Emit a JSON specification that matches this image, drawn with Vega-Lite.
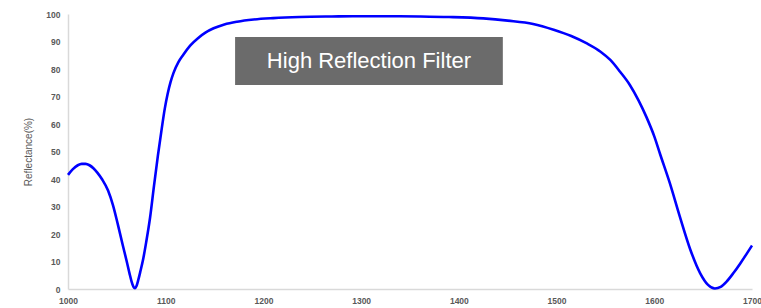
{
  "$schema": "https://vega.github.io/schema/vega-lite/v6.json",
  "width": 684,
  "height": 275,
  "autosize": {"type": "none"},
  "padding": {"left": 68, "top": 14, "right": 9, "bottom": 19},
  "background": "white",
  "config": {"view": {"stroke": null}, "font": "Liberation Sans"},
  "resolve": {"axis": {"x": "independent", "y": "independent"}},
  "datasets": {
    "curve": [
      {"w": 1000, "r": 41.5}, {"w": 1005, "r": 43.6}, {"w": 1010, "r": 45.0}, {"w": 1014, "r": 45.5},
      {"w": 1018, "r": 45.5}, {"w": 1022, "r": 45.0}, {"w": 1026, "r": 43.9}, {"w": 1030, "r": 42.3},
      {"w": 1035, "r": 39.8}, {"w": 1041, "r": 35.8}, {"w": 1046, "r": 30.5}, {"w": 1051, "r": 23.5},
      {"w": 1056, "r": 16.0}, {"w": 1060, "r": 10.2}, {"w": 1063, "r": 5.6}, {"w": 1065, "r": 2.8},
      {"w": 1067, "r": 0.8}, {"w": 1068.5, "r": 0.3}, {"w": 1070, "r": 1.0}, {"w": 1072, "r": 3.4},
      {"w": 1074, "r": 6.3}, {"w": 1077, "r": 11.0}, {"w": 1080, "r": 17.0}, {"w": 1084, "r": 26.0},
      {"w": 1088, "r": 37.5}, {"w": 1092, "r": 48.5}, {"w": 1096, "r": 58.5}, {"w": 1099, "r": 65.5},
      {"w": 1102, "r": 71.0}, {"w": 1105, "r": 75.3}, {"w": 1108, "r": 78.6}, {"w": 1113, "r": 82.5},
      {"w": 1118, "r": 85.2}, {"w": 1125, "r": 88.5}, {"w": 1133, "r": 91.2},
      {"w": 1141, "r": 93.3}, {"w": 1149, "r": 94.8}, {"w": 1160, "r": 96.2}, {"w": 1173, "r": 97.2},
      {"w": 1190, "r": 98.0}, {"w": 1210, "r": 98.5}, {"w": 1237, "r": 98.9}, {"w": 1270, "r": 99.1},
      {"w": 1300, "r": 99.2}, {"w": 1330, "r": 99.2}, {"w": 1360, "r": 99.1}, {"w": 1390, "r": 98.9},
      {"w": 1425, "r": 98.4}, {"w": 1450, "r": 97.6}, {"w": 1476, "r": 96.4}, {"w": 1497, "r": 94.3},
      {"w": 1515, "r": 92.0}, {"w": 1531, "r": 89.3}, {"w": 1545, "r": 86.3}, {"w": 1555, "r": 83.3},
      {"w": 1565, "r": 79.0}, {"w": 1575, "r": 74.2}, {"w": 1584, "r": 68.5}, {"w": 1592, "r": 62.5},
      {"w": 1600, "r": 55.5}, {"w": 1606, "r": 49.0}, {"w": 1616, "r": 38.4}, {"w": 1626, "r": 26.5},
      {"w": 1637, "r": 14.2}, {"w": 1647, "r": 5.7}, {"w": 1655, "r": 1.5}, {"w": 1662, "r": 0.2},
      {"w": 1668, "r": 0.8}, {"w": 1674, "r": 2.7}, {"w": 1681, "r": 5.8}, {"w": 1688, "r": 9.3},
      {"w": 1694, "r": 12.5}, {"w": 1700, "r": 15.8}
    ],
    "label": [
      {"w1": 1171, "w2": 1445, "r1": 74.2, "r2": 91.6, "wc": 1308, "rc": 82.9, "text": "High Reflection Filter"}
    ]
  },
  "layer": [
    {
      "data": {"name": "curve"},
      "mark": {"type": "line", "color": "#0000ff", "strokeWidth": 2.6, "interpolate": "monotone"},
      "encoding": {
        "x": {
          "field": "w", "type": "quantitative",
          "scale": {"domain": [1000, 1700], "nice": false, "zero": false},
          "axis": {
            "values": [1000, 1100, 1200, 1300, 1400, 1500, 1600, 1700],
            "format": "d", "labelOverlap": false,
            "title": null, "grid": false, "ticks": false,
            "domainColor": "#d9d9d9", "domainWidth": 1.5,
            "labelColor": "#595959", "labelFontSize": 8.5, "labelFontWeight": "bold",
            "labelPadding": 7, "labelFlush": false
          }
        },
        "y": {
          "field": "r", "type": "quantitative",
          "scale": {"domain": [0, 100], "nice": false},
          "axis": {
            "values": [0, 10, 20, 30, 40, 50, 60, 70, 80, 90, 100],
            "format": "d", "labelOverlap": false,
            "title": "Reflectance(%)", "grid": false, "ticks": false,
            "domainColor": "#d9d9d9", "domainWidth": 1.5,
            "labelColor": "#595959", "labelFontSize": 8.5, "labelFontWeight": "bold",
            "labelPadding": 8,
            "titleColor": "#595959", "titleFontSize": 10, "titleFontWeight": "normal",
            "titlePadding": 12
          }
        }
      }
    },
    {
      "data": {"name": "label"},
      "mark": {"type": "rect", "color": "#6b6b6b"},
      "encoding": {
        "x": {"field": "w1", "type": "quantitative", "axis": null},
        "x2": {"field": "w2"},
        "y": {"field": "r1", "type": "quantitative", "axis": null},
        "y2": {"field": "r2"}
      }
    },
    {
      "data": {"name": "label"},
      "mark": {"type": "text", "color": "white", "fontSize": 22, "font": "Liberation Sans", "align": "center", "baseline": "middle"},
      "encoding": {
        "x": {"field": "wc", "type": "quantitative", "axis": null},
        "y": {"field": "rc", "type": "quantitative", "axis": null},
        "text": {"field": "text"}
      }
    }
  ]
}
